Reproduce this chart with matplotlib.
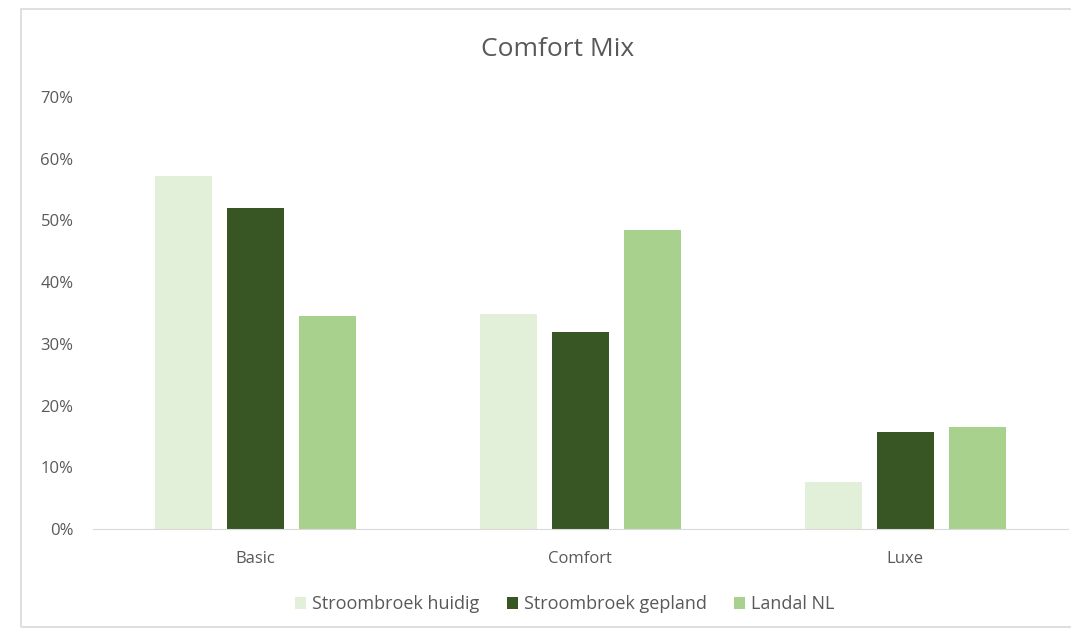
import numpy as np
import matplotlib.pyplot as plt
from matplotlib.patches import Rectangle
from matplotlib.ticker import PercentFormatter

categories = ["Basic", "Comfort", "Luxe"]
series = ["Stroombroek huidig", "Stroombroek gepland", "Landal NL"]
huidig = [57.2, 34.8, 7.6]
gepland = [52.0, 32.0, 15.7]
landal = [34.5, 48.5, 16.5]
colors = ["#E2EFD9", "#375623", "#A9D18E"]

text_col = "#595959"
plt.rcParams["font.family"] = ["Open Sans", "DejaVu Sans"]

fig = plt.figure(figsize=(10.71, 6.3), dpi=100)
ax = fig.add_axes([0.0868, 0.1603, 0.9102, 0.6857])

# light frame round the chart area, like the Excel chart border
fig.patches.append(Rectangle((21 / 1071, 3 / 630), 1, 618 / 630, transform=fig.transFigure,
                             fill=False, edgecolor="#D9D9D9", linewidth=1.2))

x = np.arange(len(categories))
width = 0.175
step = 0.222
for i, (name, vals) in enumerate(zip(series, [huidig, gepland, landal])):
    ax.bar(x + (i - 1) * step, vals, width, color=colors[i], label=name)

ax.set_xlim(-0.5, 2.5)
ax.set_ylim(0, 70)
ax.set_yticks(np.arange(0, 71, 10))
ax.yaxis.set_major_formatter(PercentFormatter(decimals=0))
ax.set_xticks(x)
ax.set_xticklabels(categories)
ax.tick_params(axis="both", length=0, colors=text_col, labelsize=12)
ax.tick_params(axis="x", pad=16)
ax.tick_params(axis="y", pad=14)
for s in ["top", "right", "left"]:
    ax.spines[s].set_visible(False)
ax.spines["bottom"].set_color("#D9D9D9")

fig.text(0.521, 0.921, "Comfort Mix", ha="center", va="center", fontsize=19, color=text_col)

ax.legend(loc="center", bbox_to_anchor=(0.484, -0.174), ncol=3, frameon=False,
          fontsize=13, labelcolor=text_col, handlelength=0.6, handleheight=0.6,
          handletextpad=0.35, columnspacing=1.5)

plt.savefig("out.png", dpi=100)
